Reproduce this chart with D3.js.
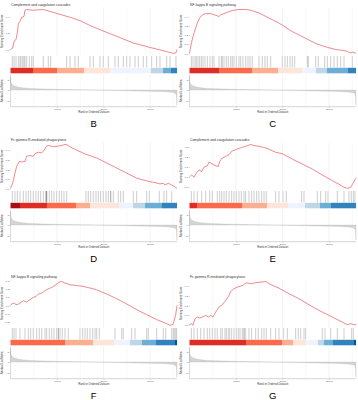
<!DOCTYPE html>
<html><head><meta charset="utf-8">
<script src="https://cdn.jsdelivr.net/npm/d3@7/dist/d3.min.js"></script>
<style>body{margin:0;background:#fff}svg{display:block}</style>
</head><body><svg id="c" width="358" height="400"></svg>
<script>
// ---------------- data ----------------
const N = 35800;
const letters = ["B", "C", "D", "E", "F", "G"];
const titles = [
  "Complement and coagulation cascades",
  "NF-kappa B signaling pathway",
  "Fc gamma R-mediated phagocytosis",
  "Complement and coagulation cascades",
  "NF-kappa B signaling pathway",
  "Fc gamma R-mediated phagocytosis"
];
const xTicks = [10000, 20000, 30000];
const xGrid = [5000, 10000, 15000, 20000, 25000, 30000, 35000];
const metricTicks = [-5, 0, 5];
const metricRanks  = [0, 50, 150, 400, 800, 1500, 2500, 4000, 6000, 9000, 12000, 15000, 18000, 21000, 24000, 27000, 30000, 32500, 34000, 35000, 35500, 35700, 35800];
const metricValues = [6.8, 4.5, 3.5, 2.6, 2.0, 1.5, 1.1, 0.8, 0.6, 0.4, 0.25, 0.12, 0.02, -0.1, -0.25, -0.4, -0.55, -0.7, -0.9, -1.2, -1.7, -2.6, -7.3];

// running enrichment score curves: [rank, ES]
const esB = [[0,0],[470,0.016],[750,0.10],[1180,0.12],[1460,0.20],[1680,0.31],[2040,0.34],[2410,0.39],[2900,0.40],[3120,0.475],[3480,0.484],[4900,0.475],[7050,0.484],[8490,0.46],[10640,0.425],[12790,0.39],[14940,0.35],[17090,0.29],[19890,0.225],[22830,0.16],[26340,0.08],[29990,0.025],[33580,-0.025],[34940,-0.046],[35580,-0.04],[35800,0.0]];
const esC = [[0,0],[390,0.108],[750,0.18],[1180,0.255],[1680,0.33],[2190,0.386],[2750,0.42],[3480,0.433],[4560,0.433],[5270,0.42],[5980,0.41],[6340,0.40],[6710,0.42],[7780,0.44],[9200,0.467],[10640,0.478],[12080,0.478],[13160,0.47],[14940,0.44],[17090,0.385],[19240,0.33],[22100,0.237],[24980,0.163],[27130,0.108],[29280,0.07],[31430,0.041],[32850,0.033],[33930,0.022],[34660,0.003],[35000,0.014],[35800,0]];
const esD = [[0,0],[470,0.053],[970,0.16],[1330,0.23],[1890,0.283],[2410,0.277],[3120,0.283],[3480,0.336],[4190,0.344],[4900,0.336],[5270,0.365],[5980,0.379],[6710,0.372],[7050,0.389],[7780,0.443],[8130,0.45],[9200,0.436],[10280,0.443],[11010,0.45],[11720,0.46],[12080,0.46],[12790,0.436],[14230,0.40],[16380,0.354],[18530,0.319],[20680,0.266],[22830,0.213],[24980,0.16],[27130,0.106],[28550,0.088],[29990,0.07],[31070,0.06],[32140,0.046],[32850,0.053],[33220,0.035],[33930,0.053],[34660,0.035],[35800,0]];
const esE = [[0,0],[470,0.02],[970,-0.003],[1460,0.038],[2040,0.071],[2620,0.054],[3120,0.099],[3830,0.112],[4190,0.15],[4770,0.133],[5630,0.112],[6190,0.105],[6490,0.156],[7050,0.19],[7780,0.207],[8490,0.224],[9070,0.258],[9930,0.276],[11010,0.293],[12080,0.309],[13160,0.327],[13870,0.316],[14940,0.309],[16380,0.293],[18530,0.248],[19950,0.235],[22100,0.18],[24250,0.13],[26400,0.079],[28550,0.02],[30700,-0.038],[32140,-0.074],[33220,-0.105],[33930,-0.115],[34660,-0.105],[35150,-0.064],[35800,-0.01]];
const esF = [[0,0],[470,0.029],[970,0.017],[1460,0.008],[2040,0.029],[2750,0.057],[3480,0.041],[4190,0.069],[4900,0.096],[5480,0.108],[5980,0.137],[6710,0.149],[7420,0.177],[8130,0.201],[8860,0.217],[9570,0.241],[9930,0.258],[10490,0.282],[11010,0.289],[11720,0.27],[12790,0.249],[14230,0.241],[15650,0.229],[17090,0.21],[18530,0.189],[20680,0.137],[22830,0.081],[24980,0.017],[27130,-0.052],[29280,-0.112],[31430,-0.172],[33220,-0.212],[34290,-0.241],[34870,-0.233],[35150,-0.193],[35520,-0.112],[35800,0]];
const esG = [[0,0],[470,0.01],[750,-0.007],[1180,0.062],[1680,0.078],[2190,0.068],[2750,0.078],[3480,0.096],[4040,0.078],[4560,0.096],[5050,0.078],[5630,0.13],[6340,0.181],[7050,0.206],[7780,0.25],[8490,0.302],[8860,0.343],[9570,0.371],[10280,0.388],[11010,0.398],[11720,0.412],[12080,0.433],[13160,0.423],[14230,0.433],[15310,0.439],[16380,0.446],[17090,0.423],[19240,0.377],[21390,0.32],[23540,0.268],[25690,0.206],[27840,0.147],[29990,0.096],[32140,0.044],[33930,0],[34660,0.01],[35370,0],[35800,0]];

// hit ranks
const hitsB = [390,750,1180,1680,2040,2260,2620,2900,3120,3480,4040,4560,4900,7050,8130,8640,12080,12790,13870,14580,17090,17800,19240,19950,21030,22470,23180,24250,24980,25690,26770,27480,28550,29280,30360,31430,32140,33580,34290,35580];
const hitsC = [390,750,1180,1460,1830,2190,2540,2900,3330,3830,4410,4900,5270,6340,6840,7050,7420,7910,8340,8860,9200,9570,10060,10640,11010,11500,12080,12580,13010,13500,14940,15650,16230,16730,17460,19950,20530,21030,21610,22100,22620,25330,25540,27130,27690,29070,29630,30360,31070,31780,32510,33220,35000];
const hitsD = [390,970,1460,2040,2750,3330,3830,4340,4900,5480,5980,6490,7050,7570,7700,7780,7800,8340,8860,9350,9930,10490,11010,11500,12080,16230,16730,17240,17800,18380,18880,19390,19950,20530,21030,21540,21560,22100,23180,23690,24250,26400,27130,29280,29840,31990,33000,33580,34660];
const hitsE = [390,970,1680,2620,3480,4340,4900,5980,6490,6920,7420,7910,8490,9070,9570,10060,10640,11140,11720,12080,12790,13370,13870,14450,14940,15520,16020,16510,18530,19240,20100,20810,24120,24620,27480,28210,29280,29780,31780,33220,34290,34790,35220,35580];
const hitsF = [390,750,1180,2040,3120,3830,4340,4900,5630,6190,6710,7420,7780,8340,8860,9350,9930,10280,10300,10640,11140,11720,12430,14940,15520,16020,16510,17090,17670,18170,18530,19090,22470,23910,24250,26060,26770,29280,29630,31430,32850,33370,34660,35000,35220,35520,35730];
const hitsG = [390,970,1680,2410,3120,3830,4340,4900,5480,5980,6710,7050,7630,7910,8340,8640,9070,9570,10060,10490,10860,11350,11720,11740,12080,12790,13370,14230,14790,15520,16020,16510,17460,18530,19240,20170,21030,22830,23390,23910,24620,24980,28550,29130,30360,31780,33220,34870,35220];

// colour bar: segment boundaries (ranks) and colours
const barB = [0,4840,10000,15800,21400,30200,32790,34510,35800];
const barColB = ["#DE2D26","#FB6A4A","#FCAE91","#FEE5D9","#EFF3FF","#BDD7E7","#6BAED6","#3182BD"];
const barC = [0,6340,13440,19030,24190,27200,29560,34080,35800];
const barColC = ["#DE2D26","#FB6A4A","#FCAE91","#FEE5D9","#EFF3FF","#BDD7E7","#6BAED6","#3182BD"];
const barD = [0,2040,7850,14080,17090,23330,26340,28920,32570,35800];
const barColD = ["#A50F15","#DE2D26","#FB6A4A","#FCAE91","#FEE5D9","#EFF3FF","#BDD7E7","#6BAED6","#3182BD"];
const barE = [0,1610,11290,16660,21180,24830,28060,30420,35800];
const barColE = ["#DE2D26","#FB6A4A","#FCAE91","#FEE5D9","#EFF3FF","#BDD7E7","#6BAED6","#3182BD"];
const barF = [0,11720,17740,22250,25690,28270,31280,35370,35800];
const barColF = ["#FB6A4A","#FCAE91","#FEE5D9","#EFF3FF","#BDD7E7","#6BAED6","#3182BD","#08519C"];
const barG = [0,12150,19890,22250,25050,27630,28920,30850,35370,35800];
const barColG = ["#DE2D26","#FB6A4A","#FCAE91","#FEE5D9","#EFF3FF","#BDD7E7","#6BAED6","#3182BD","#08519C"];

// ES axis tick values
const esTicksB = [0.0, 0.2, 0.4];
const esTicksC = [0.0, 0.1, 0.2, 0.3, 0.4];
const esTicksD = [0.0, 0.1, 0.2, 0.3, 0.4];
const esTicksE = [-0.1, 0.0, 0.1, 0.2, 0.3];
const esTicksF = [-0.2, -0.1, 0.0, 0.1, 0.2, 0.3];
const esTicksG = [0.0, 0.1, 0.2, 0.3, 0.4];

// ---------------- drawing ----------------
const panels = [
  {es: esB, hits: hitsB, bar: barB, barCol: barColB, ticks: esTicksB},
  {es: esC, hits: hitsC, bar: barC, barCol: barColC, ticks: esTicksC},
  {es: esD, hits: hitsD, bar: barD, barCol: barColD, ticks: esTicksD},
  {es: esE, hits: hitsE, bar: barE, barCol: barColE, ticks: esTicksE},
  {es: esF, hits: hitsF, bar: barF, barCol: barColF, ticks: esTicksF},
  {es: esG, hits: hitsG, bar: barG, barCol: barColG, ticks: esTicksG}
];
const colX = [0, 179];
const rowY = [0, 135, 272];
const FONT = "'Liberation Sans', Arial, sans-serif";
const svg = d3.select("#c");
svg.append("rect").attr("width", 358).attr("height", 400).attr("fill", "#fff");

const metric = metricRanks.map((r, i) => [r, metricValues[i]]);

function expand(ext) {
  const d = (ext[1] - ext[0]) * 0.05;
  return [ext[0] - d, ext[1] + d];
}

panels.forEach((p, i) => {
  const ox = colX[i % 2], oy = rowY[Math.floor(i / 2)];
  const g = svg.append("g").attr("transform", `translate(${ox},${oy})`);
  const x0 = 10.5, x1 = 177;
  const esTop = 7.3, esBot = 55.5;
  const hitTop = 56, hitBot = 67.5;
  const barTop = 67.8, barBot = 73.3;
  const mTop = 74.5, mBot = 106.7;

  const x = d3.scaleLinear().domain([0, N]).range([x0, x1]);
  const yES = d3.scaleLinear().domain(expand(d3.extent(p.es, d => d[1]))).range([esBot, esTop]);
  const yM = d3.scaleLinear().domain(expand(d3.extent(metricValues))).range([mBot, mTop]);

  // grid lines (ES + metric panels)
  [[esTop, esBot], [mTop, mBot]].forEach(([t, b]) => {
    g.append("g").selectAll("line").data(xGrid).join("line")
      .attr("x1", d => x(d)).attr("x2", d => x(d)).attr("y1", t).attr("y2", b)
      .attr("stroke", "#ebebeb").attr("stroke-width", d => xTicks.includes(d) ? 0.6 : 0.35);
  });

  // title
  g.append("text").attr("x", x0 + 0.5).attr("y", 5.6).text(titles[i])
    .attr("font-family", FONT).attr("font-size", 3.4).attr("fill", "#333");

  // ES line
  g.append("path").datum(p.es)
    .attr("d", d3.line().x(d => x(d[0])).y(d => yES(d[1])))
    .attr("fill", "none").attr("stroke", "#e53a3f").attr("stroke-width", 0.6);

  // ES axis
  const ay = g.append("g").attr("transform", `translate(${x0},0)`)
    .call(d3.axisLeft(yES).tickValues(p.ticks).tickFormat(d3.format(".1f")).tickSize(0.8).tickPadding(0.6));
  ay.select(".domain").remove();
  ay.selectAll("line").attr("stroke", "#666").attr("stroke-width", 0.3);
  ay.selectAll("text").attr("font-size", 2.4).attr("font-family", FONT).attr("fill", "#555");

  g.append("text").attr("transform", `translate(3.4,${(esTop + esBot) / 2}) rotate(-90)`)
    .attr("text-anchor", "middle").attr("font-size", 2.8).attr("font-family", FONT).attr("fill", "#333")
    .text("Running Enrichment Score");

  // hits
  g.append("g").selectAll("line").data(p.hits).join("line")
    .attr("x1", d => x(d)).attr("x2", d => x(d)).attr("y1", hitTop).attr("y2", hitBot)
    .attr("stroke", "#000").attr("stroke-width", 0.5).attr("stroke-opacity", 0.4);

  // colour bar
  g.append("g").selectAll("rect").data(p.barCol).join("rect")
    .attr("x", (d, k) => x(p.bar[k])).attr("width", (d, k) => x(p.bar[k + 1]) - x(p.bar[k]) + 0.05)
    .attr("y", barTop).attr("height", barBot - barTop).attr("fill", d => d);

  // ranked list metric
  g.append("path").datum(metric)
    .attr("d", d3.area().x(d => x(d[0])).y0(yM(0)).y1(d => yM(d[1])))
    .attr("fill", "#d4d4d4").attr("stroke", "#aaa").attr("stroke-width", 0.25);

  const am = g.append("g").attr("transform", `translate(${x0},0)`)
    .call(d3.axisLeft(yM).tickValues(metricTicks).tickSize(0.8).tickPadding(0.6));
  am.select(".domain").attr("stroke", "#aaa").attr("stroke-width", 0.4).attr("d", `M0,${mTop}V${mBot}`);
  am.selectAll("line").attr("stroke", "#666").attr("stroke-width", 0.3);
  am.selectAll("text").attr("font-size", 2.4).attr("font-family", FONT).attr("fill", "#555");

  const axb = g.append("g").attr("transform", `translate(0,${mBot})`)
    .call(d3.axisBottom(x).tickValues(xTicks).tickFormat(d3.format("d")).tickSize(0.8).tickPadding(0.4));
  axb.select(".domain").attr("stroke", "#aaa").attr("stroke-width", 0.5).attr("d", `M${x0},0H${x1}`);
  axb.selectAll("line").attr("stroke", "#666").attr("stroke-width", 0.3);
  axb.selectAll("text").attr("font-size", 2.3).attr("font-family", FONT).attr("fill", "#555");

  g.append("text").attr("transform", `translate(3.4,${(mTop + mBot) / 2}) rotate(-90)`)
    .attr("text-anchor", "middle").attr("font-size", 2.8).attr("font-family", FONT).attr("fill", "#333")
    .text("Ranked List Metric");

  g.append("text").attr("x", (x0 + x1) / 2).attr("y", mBot + 6.4)
    .attr("text-anchor", "middle").attr("font-size", 2.8).attr("font-family", FONT).attr("fill", "#333")
    .text("Rank in Ordered Dataset");

  // panel letter
  g.append("text").attr("x", (x0 + x1) / 2).attr("y", mBot + 19.8)
    .attr("text-anchor", "middle").attr("font-size", 9.5).attr("font-family", FONT).attr("fill", "#000")
    .text(letters[i]);
});
</script></body></html>
